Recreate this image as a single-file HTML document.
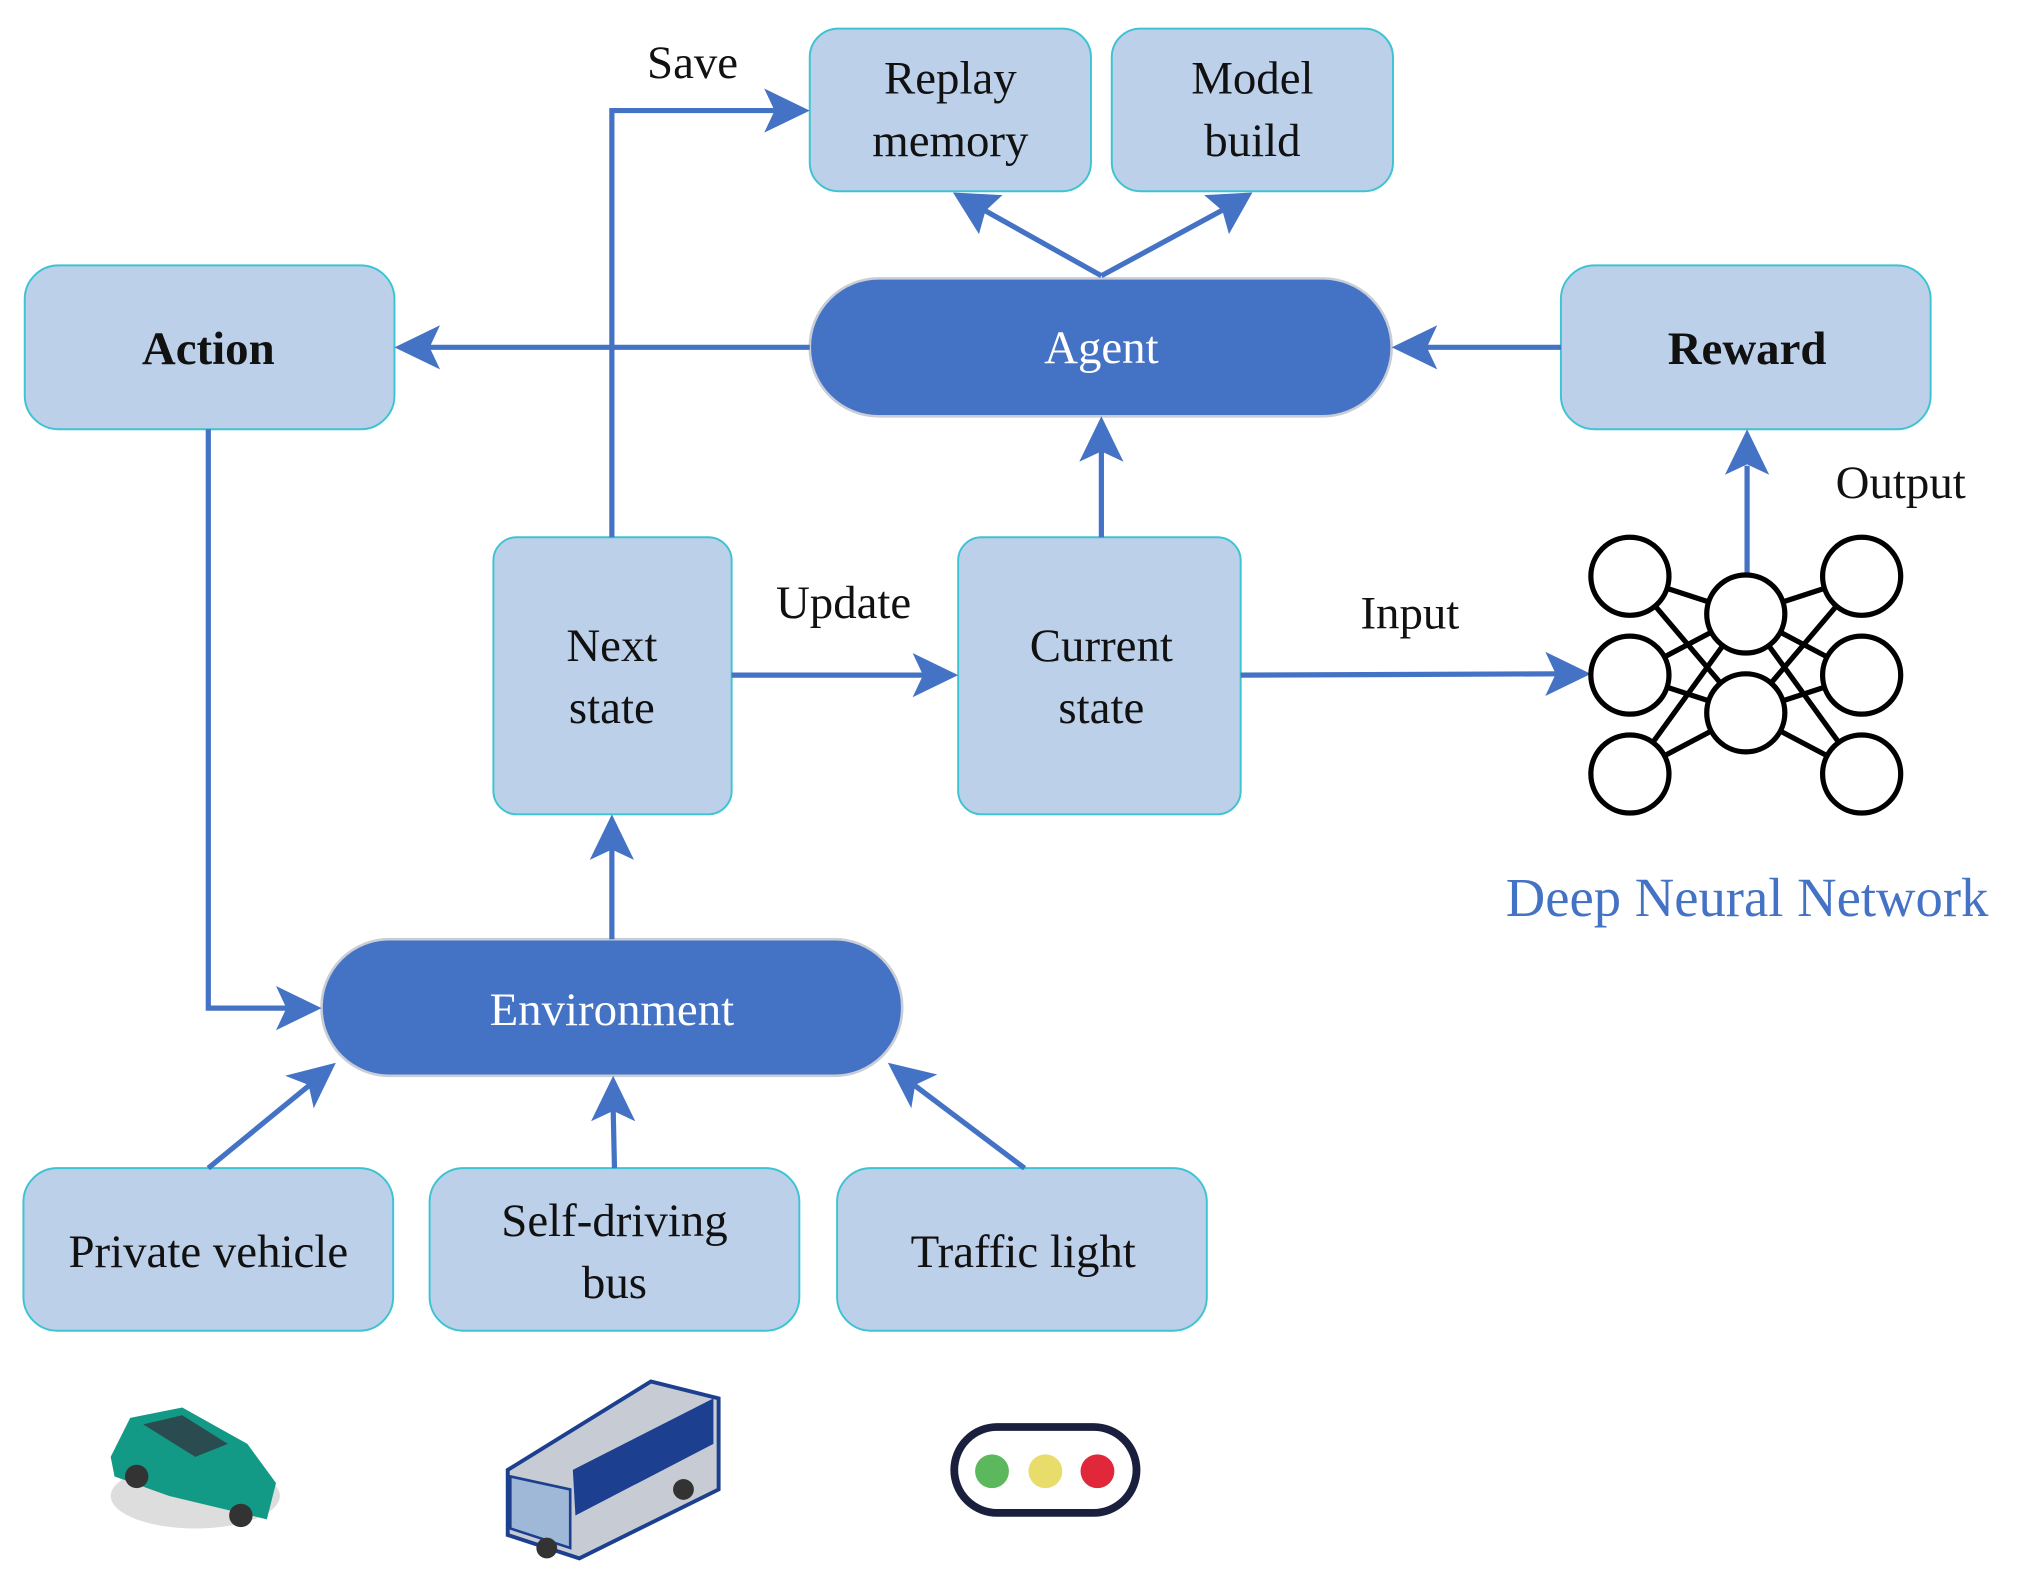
<!DOCTYPE html>
<html><head><meta charset="utf-8"><style>
html,body{margin:0;padding:0;background:#fff;}
svg{display:block}
text{font-family:"Liberation Serif",serif;}
</style></head><body>
<svg width="2040" height="1574" viewBox="0 0 1567 1210" preserveAspectRatio="none" xmlns="http://www.w3.org/2000/svg">
<g fill="#bdd0ea" stroke="#3ec3d2" stroke-width="1.5">
<rect x="622" y="22" width="216" height="125" rx="22"/>
<rect x="854" y="22" width="216" height="125" rx="22"/>
<rect x="19" y="204" width="284" height="126" rx="26"/>
<rect x="1199" y="204" width="284" height="126" rx="26"/>
<rect x="379" y="413" width="183" height="213" rx="18"/>
<rect x="736" y="413" width="217" height="213" rx="18"/>
<rect x="18" y="898" width="284" height="125" rx="26"/>
<rect x="330" y="898" width="284" height="125" rx="26"/>
<rect x="643" y="898" width="284" height="125" rx="26"/>
</g>
<g fill="#4472c4" stroke="#c8cdd6" stroke-width="2">
<rect x="622" y="214" width="447" height="106" rx="53"/>
<rect x="247" y="722" width="446" height="105" rx="52"/>
</g>
<g stroke="#4472c4" stroke-width="4" fill="none">
<line x1="622" y1="267" x2="330" y2="267"/>
<line x1="1199" y1="267" x2="1095" y2="267"/>
<line x1="846" y1="212" x2="755" y2="161"/>
<line x1="846" y1="212" x2="940" y2="161"/>
<line x1="846" y1="413" x2="846" y2="346"/>
<polyline points="470,413 470,85 596,85"/>
<line x1="562" y1="519" x2="710" y2="519"/>
<line x1="953" y1="519" x2="1196" y2="518"/>
<line x1="1342" y1="442" x2="1342" y2="358"/>
<polyline points="160,330 160,775 222,775"/>
<line x1="470" y1="722" x2="470" y2="653"/>
<line x1="160" y1="898" x2="238" y2="834"/>
<line x1="472" y1="898" x2="471" y2="853"/>
<line x1="787" y1="898" x2="702" y2="834"/>
</g>
<g fill="#4472c4">
<polygon points="303,267 338,250 330,267 338,284"/>
<polygon points="1069,267 1104,250 1096,267 1104,284"/>
<polygon points="732,148 770,150 757,162 752,180"/>
<polygon points="962,148 944,180 939,162 925,150"/>
<polygon points="846,320 863,355 846,347 829,355"/>
<polygon points="622,85 587,68 595,85 587,102"/>
<polygon points="736,519 701,502 709,519 701,536"/>
<polygon points="1222,518 1187,501 1195,518 1187,535"/>
<polygon points="1342,330 1359,365 1342,357 1325,365"/>
<polygon points="247,775 212,758 220,775 212,792"/>
<polygon points="470,626 487,661 470,653 453,661"/>
<polygon points="258,817 241,852 237,834 219,827"/>
<polygon points="471,827 488,862 471,854 454,862"/>
<polygon points="682,817 720,826 703,834 700,852"/>
</g>
<g stroke="#000" stroke-width="4" fill="#fff">
<g fill="none">
<line x1="1252" y1="443" x2="1341" y2="472"/><line x1="1252" y1="443" x2="1341" y2="548"/>
<line x1="1252" y1="519" x2="1341" y2="472"/><line x1="1252" y1="519" x2="1341" y2="548"/>
<line x1="1252" y1="595" x2="1341" y2="472"/><line x1="1252" y1="595" x2="1341" y2="548"/>
<line x1="1430" y1="443" x2="1341" y2="472"/><line x1="1430" y1="443" x2="1341" y2="548"/>
<line x1="1430" y1="519" x2="1341" y2="472"/><line x1="1430" y1="519" x2="1341" y2="548"/>
<line x1="1430" y1="595" x2="1341" y2="472"/><line x1="1430" y1="595" x2="1341" y2="548"/>
</g>
<circle cx="1252" cy="443" r="30"/><circle cx="1252" cy="519" r="30"/><circle cx="1252" cy="595" r="30"/>
<circle cx="1341" cy="472" r="30"/><circle cx="1341" cy="548" r="30"/>
<circle cx="1430" cy="443" r="30"/><circle cx="1430" cy="519" r="30"/><circle cx="1430" cy="595" r="30"/>
</g>
<g font-size="36" fill="#111" text-anchor="middle">
<text x="730" y="72">Replay</text><text x="730" y="120">memory</text>
<text x="962" y="72">Model</text><text x="962" y="120">build</text>
<text x="160" y="280" font-weight="bold">Action</text>
<text x="1342" y="280" font-weight="bold">Reward</text>
<text x="846" y="279" fill="#fff">Agent</text>
<text x="470" y="788" fill="#fff">Environment</text>
<text x="470" y="508">Next</text><text x="470" y="556">state</text>
<text x="846" y="508">Current</text><text x="846" y="556">state</text>
<text x="160" y="974">Private vehicle</text>
<text x="472" y="950">Self-driving</text><text x="472" y="998">bus</text>
<text x="786" y="974">Traffic light</text>
<text x="532" y="60">Save</text>
<text x="648" y="475">Update</text>
<text x="1083" y="483">Input</text>
<text x="1460" y="383">Output</text>
<text x="1342" y="704" fill="#4472c4" font-size="42">Deep Neural Network</text>
</g>
<g>
<ellipse cx="150" cy="1150" rx="65" ry="25" fill="#ddd"/>
<path d="M85 1120 L100 1090 L140 1082 L190 1110 L212 1140 L205 1168 L130 1150 L88 1135Z" fill="#129a86"/>
<path d="M110 1095 L140 1088 L175 1110 L150 1120Z" fill="#2a4c50"/>
<circle cx="105" cy="1135" r="9" fill="#333"/><circle cx="185" cy="1165" r="9" fill="#333"/>
</g>
<g>
<path d="M390 1130 L500 1062 L552 1075 L552 1145 L445 1198 L390 1180Z" fill="#c7ccd4" stroke="#1d3f8f" stroke-width="3"/>
<path d="M440 1130 L548 1075 L548 1110 L442 1165Z" fill="#1d3f8f"/>
<path d="M392 1135 L438 1145 L438 1190 L392 1175Z" fill="#9fb8d8" stroke="#1d3f8f" stroke-width="2"/>
<circle cx="420" cy="1190" r="8" fill="#333"/><circle cx="525" cy="1145" r="8" fill="#333"/>
</g>
<rect x="733" y="1097" width="140" height="66" rx="33" fill="#fff" stroke="#1a1f3d" stroke-width="6"/>
<circle cx="762" cy="1131" r="13" fill="#5cb85c"/>
<circle cx="803" cy="1131" r="13" fill="#e8dc6a"/>
<circle cx="843" cy="1131" r="13" fill="#e0283a"/>
</svg>
</body></html>
